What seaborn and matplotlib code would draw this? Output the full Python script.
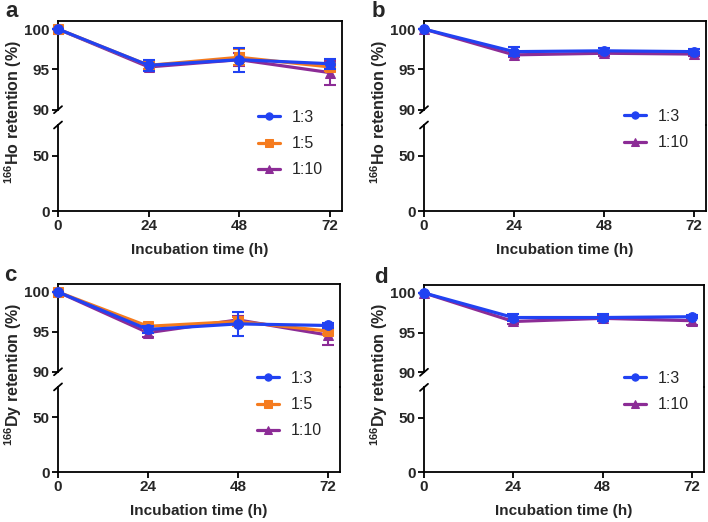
import numpy as np
import pandas as pd
import matplotlib
matplotlib.use('Agg')
import matplotlib.pyplot as plt
import seaborn as sns

# data (retention %, mean and error)
times = [0, 24, 48, 72]
ratio_labels = ['1:3', '1:5', '1:10']

ho_a_13 = [100, 95.5, 96.2, 95.7]
ho_a_13_err = [0, 0.7, 1.5, 0.6]
ho_a_15 = [100, 95.5, 96.5, 95.3]
ho_a_15_err = [0, 0.4, 1.0, 0.5]
ho_a_110 = [100, 95.3, 96.2, 94.6]
ho_a_110_err = [0, 0.4, 0.8, 1.5]

ho_b_13 = [100, 97.2, 97.3, 97.2]
ho_b_13_err = [0, 0.6, 0.3, 0.3]
ho_b_110 = [100, 96.8, 97.0, 96.9]
ho_b_110_err = [0, 0.3, 0.3, 0.3]

dy_c_13 = [100, 95.3, 96.0, 95.8]
dy_c_13_err = [0, 0.4, 1.5, 0.3]
dy_c_15 = [100, 95.7, 96.3, 95.1]
dy_c_15_err = [0, 0.3, 0.6, 0.4]
dy_c_110 = [100, 94.9, 96.5, 94.6]
dy_c_110_err = [0, 0.5, 0.5, 1.2]

dy_d_13 = [100, 96.9, 96.9, 97.0]
dy_d_13_err = [0, 0.4, 0.4, 0.2]
dy_d_110 = [100, 96.4, 96.8, 96.5]
dy_d_110_err = [0, 0.3, 0.3, 0.5]

colors = {'1:3': '#2142F2', '1:5': '#F57B1E', '1:10': '#8C2C96'}
markers = {'1:3': 'o', '1:5': 's', '1:10': '^'}

sns.set_theme(style='ticks')
plt.rcParams['font.family'] = ['Liberation Sans', 'DejaVu Sans']
plt.rcParams['mathtext.fontset'] = 'custom'
plt.rcParams['mathtext.rm'] = 'Liberation Sans'
plt.rcParams['mathtext.bf'] = 'Liberation Sans:bold'

W, H = 708, 522
fig = plt.figure(figsize=(W / 100, H / 100), dpi=100)
fig.patch.set_facecolor('white')


def px_axes(left, right, top, bottom):
    return fig.add_axes([left / W, 1 - bottom / H, (right - left) / W, (bottom - top) / H])


def draw_panel(L, R, T, B, series, ylabel, letter, letter_xy, leg_xy):
    split = T + (B - T) * 104 / 190
    ax_t = px_axes(L, R, T, split)
    ax_b = px_axes(L, R, split, B)
    xmax, ytop_lo, ytop_hi, ybot_hi = 75.2, 88.1, 101.0, 78.0

    # draw last series first so 1:3 ends up on top
    for i, (lab, vals, errs) in enumerate(reversed(series)):
        c = colors[lab]
        z = 3 + i
        ax_t.errorbar(times, vals, yerr=errs, fmt='none', ecolor=c, elinewidth=1.5,
                      capsize=4, capthick=1.5, zorder=z, clip_on=False)
        sns.lineplot(x=times, y=vals, ax=ax_t, color=c, marker=markers[lab], markersize=7,
                     markeredgecolor=c, linewidth=2.3, label=lab, zorder=z, clip_on=False)

    handles, labels = ax_t.get_legend_handles_labels()
    ax_t.get_legend().remove()
    order = [labels.index(l) for l in ratio_labels if l in labels]
    ax_b.legend([handles[k] for k in order], [labels[k] for k in order],
                loc='upper left', bbox_to_anchor=(leg_xy[0] / W, 1 - leg_xy[1] / H),
                bbox_transform=fig.transFigure, frameon=False, fontsize=11.5,
                handlelength=1.4, borderpad=0, borderaxespad=0, markerscale=0.75,
                handletextpad=0.7, labelspacing=0.7)

    for ax in (ax_t, ax_b):
        ax.set_xlim(0, xmax)
        ax.set_facecolor('none')
        for s in ax.spines.values():
            s.set_linewidth(1.3)
            s.set_color('black')
        ax.tick_params(axis='both', length=4, width=1.3, color='black', labelsize=11, pad=2)
        ax.set_xlabel('')
        ax.set_ylabel('')

    ax_t.set_ylim(ytop_lo, ytop_hi)
    ax_t.set_yticks([90, 95, 100])
    ax_t.spines['bottom'].set_visible(False)
    ax_t.spines['left'].set_bounds(90, ytop_hi)
    ax_t.tick_params(axis='x', bottom=False, labelbottom=False)

    ax_b.set_ylim(0, ybot_hi)
    ax_b.set_yticks([0, 50])
    ax_b.set_xticks(times)
    ax_b.spines['top'].set_visible(False)
    for t in ax_b.get_yticklabels() + ax_b.get_xticklabels() + ax_t.get_yticklabels():
        t.set_fontweight('bold')

    # break marks on the left spine
    dx = xmax / (R - L)
    dyt = (ytop_hi - ytop_lo) / (split - T)
    dyb = ybot_hi / (B - split)
    ax_t.plot([-4 * dx, 4 * dx], [90 - 3.5 * dyt, 90 + 3.5 * dyt], color='black', lw=1.3, clip_on=False)
    ax_b.plot([-4 * dx, 4 * dx], [ybot_hi - 3.5 * dyb, ybot_hi + 3.5 * dyb], color='black', lw=1.3, clip_on=False)

    ax_b.set_xlabel('Incubation time (h)', fontsize=11, fontweight='bold', labelpad=7)
    fig.text((L - 45) / W, 1 - ((T + B) / 2 - 4) / H, ylabel, rotation=90, ha='center', va='center',
             fontsize=11.5, fontweight='bold')
    fig.text(letter_xy[0] / W, 1 - letter_xy[1] / H, letter, fontsize=16, fontweight='bold',
             ha='left', va='baseline')


draw_panel(58, 342, 21, 211,
           [('1:3', ho_a_13, ho_a_13_err), ('1:5', ho_a_15, ho_a_15_err), ('1:10', ho_a_110, ho_a_110_err)],
           r'$^{\mathbf{166}}$Ho retention (%)', 'a', (5, 17), (258, 110))
draw_panel(424, 706, 21, 211,
           [('1:3', ho_b_13, ho_b_13_err), ('1:10', ho_b_110, ho_b_110_err)],
           r'$^{\mathbf{166}}$Ho retention (%)', 'b', (372, 17), (624, 109))
draw_panel(58, 340, 284, 472,
           [('1:3', dy_c_13, dy_c_13_err), ('1:5', dy_c_15, dy_c_15_err), ('1:10', dy_c_110, dy_c_110_err)],
           r'$^{\mathbf{166}}$Dy retention (%)', 'c', (4, 281), (257, 371))
draw_panel(424, 704, 285, 472,
           [('1:3', dy_d_13, dy_d_13_err), ('1:10', dy_d_110, dy_d_110_err)],
           r'$^{\mathbf{166}}$Dy retention (%)', 'd', (374, 283), (624, 371))

fig.savefig('out.png', dpi=100)
